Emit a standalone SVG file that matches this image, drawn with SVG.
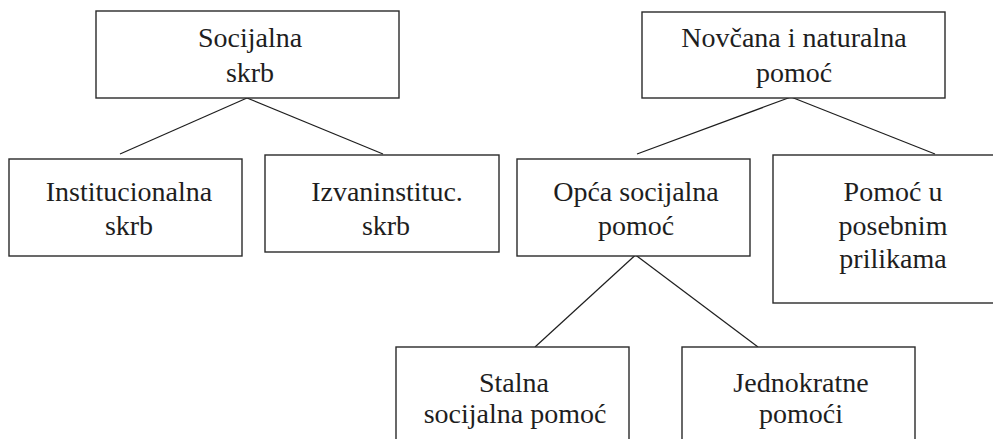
<svg xmlns="http://www.w3.org/2000/svg" width="993" height="439" viewBox="0 0 993 439">
<style>
.box{fill:#fff;stroke:#2a2a2a;stroke-width:1.4}
.lbl{font-family:"Liberation Serif","Times New Roman",serif;font-size:28px;fill:#1e1e1e;text-anchor:middle}
.con{stroke:#1e1e1e;stroke-width:1.2;fill:none}
</style>
<rect width="993" height="439" fill="#fff"/>
<g id="connectors">
<line class="con" x1="247" y1="98" x2="120" y2="154"/>
<line class="con" x1="247" y1="98" x2="383" y2="154"/>
<line class="con" x1="791" y1="97" x2="637" y2="154"/>
<line class="con" x1="791" y1="97" x2="935" y2="154"/>
<line class="con" x1="635.5" y1="255" x2="535" y2="347"/>
<line class="con" x1="635.5" y1="255" x2="758" y2="347"/>
</g>
<g id="socijalna-skrb">
<rect class="box" x="96" y="11" width="303" height="87"/>
<text class="lbl" x="250" y="47">Socijalna</text>
<text class="lbl" x="250" y="82">skrb</text>
</g>
<g id="institucionalna-skrb">
<rect class="box" x="9" y="159" width="233" height="97"/>
<text class="lbl" x="129" y="201">Institucionalna</text>
<text class="lbl" x="129" y="235">skrb</text>
</g>
<g id="izvaninstituc-skrb">
<rect class="box" x="265" y="155" width="234" height="97"/>
<text class="lbl" x="387" y="201">Izvaninstituc.</text>
<text class="lbl" x="386" y="235">skrb</text>
</g>
<g id="novcana-naturalna">
<rect class="box" x="642" y="12" width="303" height="86"/>
<text class="lbl" x="794" y="47">Novčana i naturalna</text>
<text class="lbl" x="794" y="82">pomoć</text>
</g>
<g id="opca-socijalna">
<rect class="box" x="517" y="159" width="233" height="97"/>
<text class="lbl" x="636" y="201">Opća socijalna</text>
<text class="lbl" x="636" y="235">pomoć</text>
</g>
<g id="posebne-prilike">
<rect class="box" x="773" y="155" width="230" height="148"/>
<text class="lbl" x="893" y="201">Pomoć u</text>
<text class="lbl" x="893" y="235">posebnim</text>
<text class="lbl" x="893" y="268">prilikama</text>
</g>
<g id="stalna">
<rect class="box" x="396" y="347" width="233" height="110"/>
<text class="lbl" x="514" y="392">Stalna</text>
<text class="lbl" x="515" y="423">socijalna pomoć</text>
</g>
<g id="jednokratne">
<rect class="box" x="682" y="347" width="233" height="110"/>
<text class="lbl" x="801" y="392">Jednokratne</text>
<text class="lbl" x="801" y="423">pomoći</text>
</g>
</svg>
